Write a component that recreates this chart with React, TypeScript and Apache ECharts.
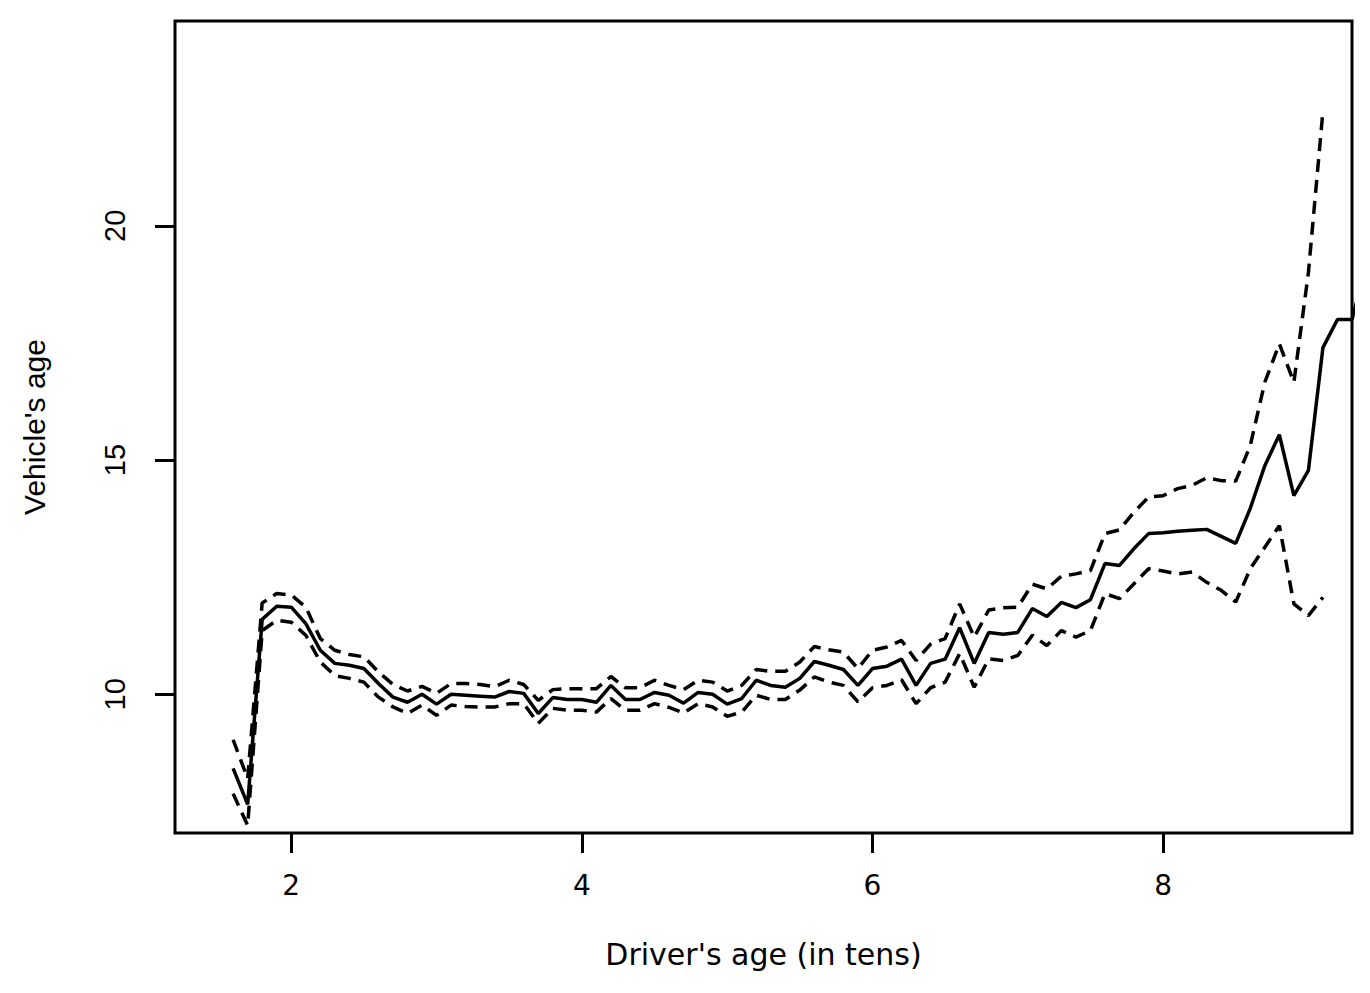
import React, { useEffect, useRef } from "react";
import * as echarts from "echarts";

// Driver's age (in tens)
const driverAge = [
  1.6, 1.7, 1.8, 1.9, 2.0, 2.1, 2.2, 2.3, 2.4, 2.5, 2.6, 2.7, 2.8, 2.9, 3.0, 3.1, 3.2, 3.3, 3.4, 3.5,
  3.6, 3.7, 3.8, 3.9, 4.0, 4.1, 4.2, 4.3, 4.4, 4.5, 4.6, 4.7, 4.8, 4.9, 5.0, 5.1, 5.2, 5.3, 5.4, 5.5,
  5.6, 5.7, 5.8, 5.9, 6.0, 6.1, 6.2, 6.3, 6.4, 6.5, 6.6, 6.7, 6.8, 6.9, 7.0, 7.1, 7.2, 7.3, 7.4, 7.5,
  7.6, 7.7, 7.8, 7.9, 8.0, 8.1, 8.2, 8.3, 8.4, 8.5, 8.6, 8.7, 8.8, 8.9, 9.0, 9.1, 9.2, 9.3, 9.4,
];

// Estimated vehicle's age (solid line)
const meanVehicleAge = [
  8.42, 7.65, 11.6, 11.88, 11.86, 11.51, 10.94, 10.66, 10.62, 10.55, 10.23, 9.94, 9.83, 10.0, 9.79, 10.0, 9.98, 9.96, 9.94, 10.06,
  10.02, 9.59, 9.93, 9.89, 9.89, 9.83, 10.19, 9.89, 9.89, 10.04, 9.98, 9.81, 10.04, 10.0, 9.79, 9.91, 10.3, 10.19, 10.15, 10.34,
  10.7, 10.62, 10.53, 10.19, 10.55, 10.6, 10.75, 10.19, 10.66, 10.75, 11.42, 10.66, 11.32, 11.28, 11.32, 11.83, 11.66, 11.96, 11.85, 12.02,
  12.79, 12.75, 13.11, 13.43, 13.45, 13.48, 13.5, 13.52, 13.37, 13.22, 13.97, 14.88, 15.54, 14.24, 14.78, 17.4, 18.0, 18.0, 19.2,
];

// Upper confidence band (dashed), ages 1.6 .. 9.1
const upperBand = [
  9.03, 8.2, 11.95, 12.15, 12.12, 11.86, 11.19, 10.94, 10.85, 10.8, 10.48, 10.21, 10.07, 10.17, 10.02, 10.23, 10.23, 10.21, 10.16, 10.3,
  10.21, 9.87, 10.1, 10.12, 10.12, 10.12, 10.38, 10.14, 10.14, 10.3, 10.19, 10.1, 10.3, 10.26, 10.07, 10.19, 10.53, 10.49, 10.49, 10.69,
  11.02, 10.95, 10.9, 10.55, 10.94, 11.01, 11.15, 10.72, 11.07, 11.19, 11.93, 11.22, 11.8, 11.85, 11.86, 12.35, 12.25, 12.52, 12.57, 12.64,
  13.43, 13.51, 13.89, 14.21, 14.24, 14.39, 14.46, 14.62, 14.56, 14.55, 15.31, 16.66, 17.48, 16.66, 19.0, 22.45,
];

// Lower confidence band (dashed), ages 1.6 .. 9.1
const lowerBand = [
  7.88, 7.2, 11.36, 11.58, 11.54, 11.26, 10.69, 10.4, 10.34, 10.26, 9.94, 9.73, 9.59, 9.77, 9.55, 9.77, 9.74, 9.73, 9.73, 9.8,
  9.8, 9.38, 9.7, 9.66, 9.66, 9.62, 9.91, 9.66, 9.66, 9.8, 9.72, 9.6, 9.8, 9.73, 9.53, 9.62, 9.98, 9.89, 9.89, 10.09,
  10.37, 10.26, 10.19, 9.84, 10.14, 10.19, 10.31, 9.8, 10.14, 10.26, 10.87, 10.15, 10.76, 10.72, 10.83, 11.26, 11.04, 11.36, 11.22, 11.36,
  12.15, 12.04, 12.36, 12.68, 12.63, 12.57, 12.61, 12.39, 12.22, 11.97, 12.68, 13.14, 13.6, 11.93, 11.68, 12.07,
];

const xTicks = [2, 4, 6, 8];
const yTicks = [10, 15, 20];

const toPoints = (ys: number[]) => ys.map((y, i) => [driverAge[i], y]);

export default function App() {
  const ref = useRef<HTMLDivElement>(null);

  useEffect(() => {
    if (!ref.current) return;
    const chart = echarts.init(ref.current, null, { renderer: "svg" });
    const black = "#000";
    chart.setOption({
      animation: false,
      backgroundColor: "#fff",
      grid: {
        left: 175,
        right: 18,
        top: 21,
        bottom: 160,
        show: true,
        borderColor: black,
        borderWidth: 3,
        backgroundColor: "transparent",
      },
      xAxis: {
        type: "value",
        min: 1.2,
        max: 9.3,
        splitLine: { show: false },
        axisLine: { show: false },
        axisTick: {
          show: true,
          length: 20,
          customValues: xTicks,
          lineStyle: { color: black, width: 3 },
        },
        axisLabel: {
          customValues: xTicks,
          fontFamily: "DejaVu Sans",
          fontSize: 28,
          color: black,
          margin: 38,
        },
        name: "Driver's age (in tens)",
        nameLocation: "middle",
        nameGap: 106,
        nameTextStyle: { fontFamily: "DejaVu Sans", fontSize: 30, color: black },
      },
      yAxis: {
        type: "value",
        min: 7.04,
        max: 24.37,
        splitLine: { show: false },
        axisLine: { show: false },
        axisTick: {
          show: true,
          length: 20,
          customValues: yTicks,
          lineStyle: { color: black, width: 3 },
        },
        axisLabel: {
          customValues: yTicks,
          rotate: 90,
          fontFamily: "Liberation Sans",
          fontSize: 29,
          color: black,
          margin: 46,
        },
        name: "Vehicle's age",
        nameLocation: "middle",
        nameGap: 126,
        nameRotate: 90,
        nameTextStyle: { fontFamily: "Liberation Sans", fontSize: 30, color: black },
      },
      series: [
        {
          type: "line",
          data: toPoints(meanVehicleAge),
          showSymbol: false,
          symbol: "none",
          lineStyle: { color: black, width: 3.5, type: "solid" },
          clip: true,
        },
        {
          type: "line",
          data: toPoints(upperBand),
          showSymbol: false,
          symbol: "none",
          lineStyle: { color: black, width: 3.5, type: [13, 8] },
          clip: true,
        },
        {
          type: "line",
          data: toPoints(lowerBand),
          showSymbol: false,
          symbol: "none",
          lineStyle: { color: black, width: 3.5, type: [13, 8] },
          clip: true,
        },
      ],
    });
    return () => chart.dispose();
  }, []);

  return (
    <div
      ref={ref}
      style={{ position: "fixed", left: 0, top: 0, width: 1370, height: 993, background: "#fff" }}
    />
  );
}
